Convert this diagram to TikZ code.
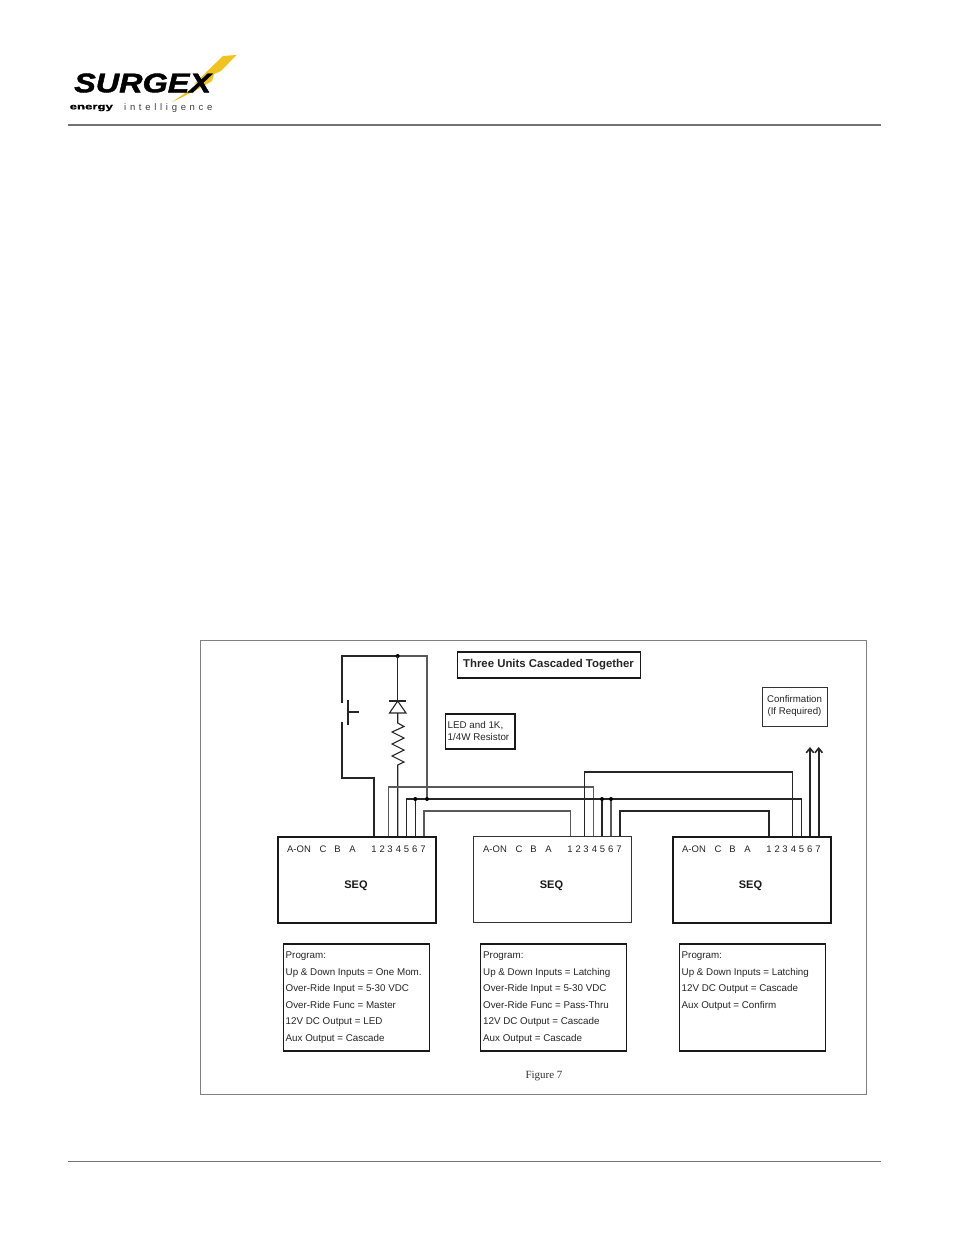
\documentclass[tikz,border=0pt]{standalone}
\usepackage{fontspec}
\setmainfont{Liberation Sans}
\newfontfamily\serifface{Liberation Serif}
\usetikzlibrary{arrows.meta,decorations.pathmorphing}
\tikzset{
 wire/.style={line width=1.1pt,black!85},
 thick wire/.style={line width=1.6pt,black!85},
 frame box/.style={draw,black!90,line width=1.5pt,anchor=north west,inner sep=0pt},
 thin box/.style={draw,black!80,line width=1.2pt,anchor=north west,inner sep=0pt},
 pin text/.style={font=\fontsize{9.5}{11}\selectfont,anchor=base,inner sep=0pt,black!85},
 seq text/.style={font=\bfseries\fontsize{11}{13}\selectfont,black!90,inner sep=0pt},
 program/.style={font=\fontsize{9.8}{16.6}\selectfont,align=left,anchor=north west,inner sep=0pt,black!85},
 jdot/.style={circle,fill=black,inner sep=0pt,minimum size=4pt},
 rule line/.style={line width=1.1pt,black!55}
}
\definecolor{boltcol}{RGB}{240,195,30}
\newcommand{\pinrow}[2]{%
 \node[pin text] at (#1+25,#2) {A-ON};
 \node[pin text] at (#1+49,#2) {C};
 \node[pin text] at (#1+63.5,#2) {B};
 \node[pin text] at (#1+78.5,#2) {A};
 \node[pin text] at (#1+100,#2) {1};
 \node[pin text] at (#1+108.2,#2) {2};
 \node[pin text] at (#1+116,#2) {3};
 \node[pin text] at (#1+124.4,#2) {4};
 \node[pin text] at (#1+132.5,#2) {5};
 \node[pin text] at (#1+140.7,#2) {6};
 \node[pin text] at (#1+149,#2) {7};
}
\begin{document}
\begin{tikzpicture}[x=1pt,y=-1pt]
\useasboundingbox (0,0) rectangle (954,1235);
\fill[white] (0,0) rectangle (954,1235);
% header and footer
\draw[rule line] (68,125) -- (881,125);
\draw[rule line] (68,1161.5) -- (881,1161.5);
% logo
\fill[boltcol] (236.5,55) -- (223,56) -- (194,84) -- (204,80) -- (171.5,102.5) -- (200,88) -- (212,81) -- (214,74) -- (221,71) -- cycle;
\node[inner sep=0pt,anchor=west,font=\bfseries\itshape\fontsize{27}{27}\selectfont] (logo) at (74,83) {\addfontfeature{FakeBold=1.5}\scalebox{1.2}[1.0]{SURGEX}};
\node[inner sep=0pt,anchor=west,font=\bfseries\fontsize{8.5}{10}\selectfont] (energy) at (69.5,108) {\scalebox{1.55}[1]{\addfontfeature{FakeBold=0.8}energy}};
\node[inner sep=0pt,anchor=west,font=\fontsize{9.5}{10}\selectfont,black!75] (intel) at (124,108) {\addfontfeature{LetterSpace=39}intelligence};
% outer frame
\node[draw,black!50,line width=0.8pt,anchor=north west,inner sep=0pt,minimum width=666pt,minimum height=454pt] (outer) at (200,640) {};
% title and notes
\node[frame box,minimum width=183pt,minimum height=26pt] (title) at (456.5,651) {};
\node[inner sep=0pt,font=\bfseries\fontsize{11.4}{13}\selectfont,black!85] (titletext) at (548.5,664.5) {Three Units Cascaded Together};
\node[frame box,minimum width=69.5pt,minimum height=35pt] (ledbox) at (444.5,713) {};
\node[inner sep=0pt,anchor=west,align=left,font=\fontsize{9.8}{12}\selectfont,black!85] (ledtext) at (447.5,731) {LED and 1K,\\1/4W Resistor};
\node[thin box,minimum width=64.5pt,minimum height=39pt] (confbox) at (762,687) {};
\node[inner sep=0pt,align=center,font=\fontsize{9.7}{12}\selectfont,black!85] (conftext) at (794.5,706) {Confirmation\\(If Required)};
% SEQ boxes
\node[frame box,minimum width=158pt,minimum height=86pt] (seqa) at (277,836) {};
\node[thin box,minimum width=157.5pt,minimum height=86pt] (seqb) at (473,836) {};
\node[frame box,minimum width=158pt,minimum height=86pt] (seqc) at (672,836) {};
\node[seq text] (seqatext) at (356,886) {SEQ};
\node[seq text] (seqbtext) at (551.5,886) {SEQ};
\node[seq text] (seqctext) at (750.5,886) {SEQ};
\pinrow{274}{852}
\pinrow{470}{852}
\pinrow{669}{852}
% program boxes
\node[frame box,minimum width=146pt,minimum height=107pt] (proga) at (282.5,943) {};
\node[frame box,minimum width=146pt,minimum height=107pt] (progb) at (479.5,943) {};
\node[frame box,minimum width=146pt,minimum height=107pt] (progc) at (678.5,943) {};
\node[program] (progatext) at (285.5,951.5) {Program:\\Up \& Down Inputs = One Mom.\\Over-Ride Input = 5-30 VDC\\Over-Ride Func = Master\\12V DC Output = LED\\Aux Output = Cascade};
\node[program] (progbtext) at (483,951.5) {Program:\\Up \& Down Inputs = Latching\\Over-Ride Input = 5-30 VDC\\Over-Ride Func = Pass-Thru\\12V DC Output = Cascade\\Aux Output = Cascade};
\node[program] (progctext) at (681.5,951.5) {Program:\\Up \& Down Inputs = Latching\\12V DC Output = Cascade\\Aux Output = Confirm};
\node[inner sep=0pt,font=\serifface\fontsize{11}{13}\selectfont,black!80] (figcap) at (544,1076.5) {Figure 7};
% named pins
\foreach \n/\x in {1/374,3/388.7,4/397.7,5/406.7,6/415.3,7/424} \coordinate (a\n) at (\x,836);
\foreach \n/\x in {1/570.7,3/584.3,4/593.3,5/602,6/611,7/619.7} \coordinate (b\n) at (\x,836);
\foreach \n/\x in {1/768.7,4/792.3,5/801.3,6/810,7/818.7} \coordinate (c\n) at (\x,836);
\coordinate (topL) at (342,656);
\coordinate (topM) at (397.7,656);
\coordinate (topR) at (427,656);
\coordinate (busj) at (427,799);
\coordinate (swT) at (342,703);
\coordinate (swB) at (342,722);
\coordinate (ledT) at (397.7,701);
\coordinate (ledB) at (397.7,713);
\coordinate (resT) at (397.7,723);
\coordinate (resB) at (397.7,767);
\coordinate (arr6) at (810,747);
\coordinate (arr7) at (818.7,747);
% supply and switch
\draw[thick wire] (swT) -- (topL) -- (topM);
\draw[wire,black!65] (topM) -- (topR) -- (busj);
\draw[thick wire] (swB) -- (342,777.7) -- (374,777.7) -- (a1);
\draw[thick wire] (347.7,700) -- (347.7,725);
\draw[wire] (347.7,712) -- (359,712);
\node[jdot] (dtop) at (topM) {};
% LED and resistor
\draw[wire] (topM) -- (ledT);
\draw[thick wire] (389,701) -- (406,701);
\draw[wire] (ledT) -- (389.5,713) -- (406,713) -- cycle;
\draw[wire] (ledB) -- (resT) -- (404,726.5) -- (392,732) -- (404,738) -- (392,744) -- (404,750) -- (392,756) -- (404,762) -- (397.7,765) -- (resB) -- (a4);
% cascade wires unit 1 to 2
\draw[wire,black!65] (a3) -- (388.7,787) -- (593.3,787) -- (b4);
\draw[wire] (a5) -- (406.7,799) -- (801.3,799) -- (c5);
\draw[wire] (a6) -- (415.3,799);
\node[jdot] (d1) at (415.3,799) {};
\node[jdot] (d2) at (busj) {};
\draw[wire,black!65] (a7) -- (424,811) -- (570.7,811) -- (b1);
% unit 2 to 3
\draw[wire] (b3) -- (584.3,772) -- (792.3,772) -- (c4);
\draw[thick wire] (b5) -- (602,799);
\draw[thick wire,black!65] (b6) -- (611,799);
\node[jdot] (d3) at (602,799) {};
\node[jdot] (d4) at (611,799) {};
\draw[thick wire] (b7) -- (619.7,811) -- (768.7,811) -- (c1);
% outputs
\draw[thick wire,-{Straight Barb[length=4.5pt,width=7.5pt]}] (c6) -- (arr6);
\draw[thick wire,-{Straight Barb[length=4.5pt,width=7.5pt]}] (c7) -- (arr7);
\end{tikzpicture}
\end{document}
